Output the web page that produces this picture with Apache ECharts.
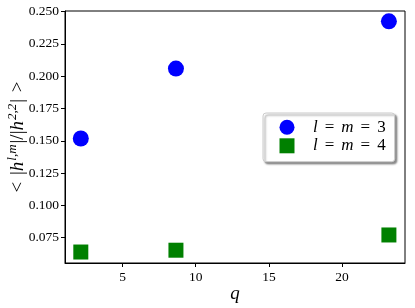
<!DOCTYPE html>
<html>
<head>
<meta charset="utf-8">
<script src="https://cdn.jsdelivr.net/npm/echarts@6/dist/echarts.min.js"></script>
<style>
html,body{margin:0;padding:0;background:#fff;}
#chart{width:415px;height:308px;}
</style>
</head>
<body>
<div id="chart"></div>
<script>
const qValues = [2.15, 8.65, 23.2];
const lm3Values = [0.1518, 0.2059, 0.2425];
const lm4Values = [0.0639, 0.0653, 0.0771];
const seriesNames = ['l = m = 3', 'l = m = 4'];
const xTicks = [5, 10, 15, 20];
const yTicks = [0.075, 0.100, 0.125, 0.150, 0.175, 0.200, 0.225, 0.250];

const FONT = 'Liberation Serif';
const chart = echarts.init(document.getElementById('chart'), null, {renderer: 'canvas'});

function pairs(xs, ys) { return xs.map((x, i) => [x, ys[i]]); }

const option = {
  animation: false,
  backgroundColor: '#ffffff',
  grid: {left: 65, right: 10, top: 11, bottom: 45, containLabel: false, outerBoundsMode: 'none',
    show: true, borderColor: '#000', borderWidth: 1, backgroundColor: 'transparent'},
  xAxis: {
    type: 'value', min: 1.07, max: 24.3,
    axisLine: {show: true, lineStyle: {color: '#000', width: 1}},
    axisTick: {show: true, length: 4, inside: false, customValues: xTicks, lineStyle: {color: '#000'}},
    axisLabel: {customValues: xTicks, margin: 7, color: '#000', fontFamily: FONT, fontSize: 13.5},
    splitLine: {show: false},
    name: '{i|q}', nameLocation: 'middle', nameGap: 21, nameMoveOverlap: false,
    nameTextStyle: {color: '#000', fontFamily: FONT, fontSize: 18, rich: {i: {fontStyle: 'italic', fontFamily: FONT, fontSize: 19, color: '#000'}}}
  },
  yAxis: {
    type: 'value', min: 0.0554, max: 0.2505,
    axisLine: {show: true, lineStyle: {color: '#000', width: 1}},
    axisTick: {show: true, length: 4, inside: false, customValues: yTicks, lineStyle: {color: '#000'}},
    axisLabel: {customValues: yTicks, margin: 6, color: '#000', fontFamily: FONT, fontSize: 13.5, formatter: v => v.toFixed(3)},
    splitLine: {show: false},
    name: '<{s| }|{i|h}{sup|l,m}|/|{i|h}{sup|2,2}|{s| }>', nameLocation: 'middle', nameRotate: 90, nameGap: 35, nameMoveOverlap: false,
    nameTextStyle: {color: '#000', fontFamily: FONT, fontSize: 19, lineHeight: 24,
      rich: {
        s: {fontFamily: FONT, fontSize: 19, lineHeight: 24, padding: [0, 1, 0, 1]},
        i: {fontStyle: 'italic', fontFamily: FONT, fontSize: 19, color: '#000', lineHeight: 24, padding: [0, 1, 0, 0]},
        sup: {fontStyle: 'italic', fontFamily: FONT, fontSize: 13, color: '#000', verticalAlign: 'top', lineHeight: 13, padding: [0, 1, 0, 0]}
      }}
  },
  legend: {
    left: 263, top: 113, orient: 'vertical',
    data: [
      {name: seriesNames[0], icon: 'circle'},
      {name: seriesNames[1], icon: 'path://M0,0L1,0L1,1L0,1Z'}
    ],
    itemWidth: 42, itemHeight: 15, itemGap: 1.6,
    padding: [5.7, 9, 7.4, 16.5],
    backgroundColor: '#fff', borderColor: '#cccccc', borderWidth: 1, borderRadius: 3,
    shadowColor: 'rgba(0,0,0,0.45)', shadowBlur: 2, shadowOffsetX: 2, shadowOffsetY: 2,
    textStyle: {color: '#000', fontFamily: FONT, fontSize: 17, lineHeight: 15,
      rich: {
        i: {fontStyle: 'italic', fontFamily: FONT, fontSize: 17, color: '#000', lineHeight: 15},
        e: {fontFamily: FONT, fontSize: 17, color: '#000', padding: [0, 7, 0, 7], lineHeight: 15},
        n: {fontFamily: FONT, fontSize: 17, color: '#000', lineHeight: 15}
      }},
    formatter: name => {
      const parts = name.split(' = ');
      return '{i|' + parts[0] + '}{e|=}{i|' + parts[1] + '}{e|=}{n|' + parts[2] + '}';
    }
  },
  series: [
    {name: seriesNames[0], type: 'scatter', symbol: 'circle', symbolSize: 16, data: pairs(qValues, lm3Values), itemStyle: {color: '#0000ff', opacity: 1}},
    {name: seriesNames[1], type: 'scatter', symbol: 'rect', symbolSize: 15, data: pairs(qValues, lm4Values), itemStyle: {color: '#008000', opacity: 1}}
  ]
};
chart.setOption(option);
</script>
</body>
</html>
